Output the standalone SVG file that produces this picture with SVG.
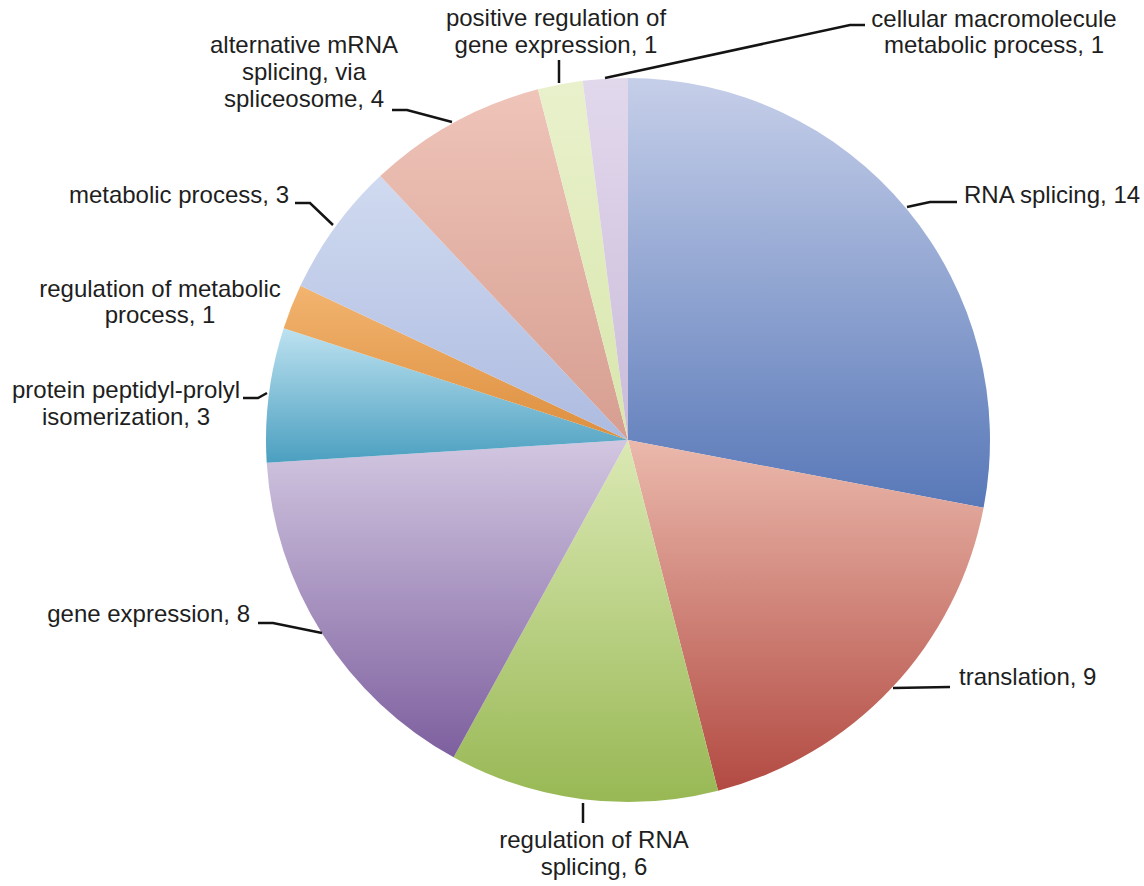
<svg xmlns="http://www.w3.org/2000/svg" width="1144" height="886" viewBox="0 0 1144 886">
<defs>
<linearGradient id="g1" x1="0" y1="0" x2="0" y2="1"><stop offset="0" stop-color="#c6cfe9"/><stop offset="1" stop-color="#5878b8"/></linearGradient>
<linearGradient id="g2" x1="0" y1="0" x2="0" y2="1"><stop offset="0" stop-color="#ebb9ac"/><stop offset="1" stop-color="#b24a42"/></linearGradient>
<linearGradient id="g3" x1="0" y1="0" x2="0" y2="1"><stop offset="0" stop-color="#dbe9b4"/><stop offset="1" stop-color="#98b854"/></linearGradient>
<linearGradient id="g4" x1="0" y1="0" x2="0" y2="1"><stop offset="0" stop-color="#d2c7e1"/><stop offset="1" stop-color="#7d5f9e"/></linearGradient>
<linearGradient id="g5" x1="0" y1="0" x2="0" y2="1"><stop offset="0" stop-color="#bde2f0"/><stop offset="1" stop-color="#4b9fc0"/></linearGradient>
<linearGradient id="g6" x1="0" y1="0" x2="0" y2="1"><stop offset="0" stop-color="#f2b470"/><stop offset="1" stop-color="#dd8f3e"/></linearGradient>
<linearGradient id="g7" x1="0" y1="0" x2="0" y2="1"><stop offset="0" stop-color="#d0daf0"/><stop offset="1" stop-color="#adbbe0"/></linearGradient>
<linearGradient id="g8" x1="0" y1="0" x2="0" y2="1"><stop offset="0" stop-color="#efc4b9"/><stop offset="1" stop-color="#d69e90"/></linearGradient>
<linearGradient id="g9" x1="0" y1="0" x2="0" y2="1"><stop offset="0" stop-color="#e9f1cc"/><stop offset="1" stop-color="#d8e6ac"/></linearGradient>
<linearGradient id="g10" x1="0" y1="0" x2="0" y2="1"><stop offset="0" stop-color="#e2d8ec"/><stop offset="1" stop-color="#cabcda"/></linearGradient>
</defs>
<style>
text{font-family:"Liberation Sans",Arial,sans-serif;font-size:24px;fill:#1e1e1e}
.m{text-anchor:middle}.e{text-anchor:end}
.lead{fill:none;stroke:#141414;stroke-width:2.5}
</style>
<rect width="1144" height="886" fill="#ffffff"/>
<g id="rna-splicing">
<path d="M628,440 L628,78 A362,362 0 0 1 983.59,507.83 Z" fill="url(#g1)"/>
<text x="964" y="203">RNA splicing, 14</text>
</g>
<g id="translation">
<path d="M628,440 L983.59,507.83 A362,362 0 0 1 718.03,790.63 Z" fill="url(#g2)"/>
<text x="959" y="685">translation, 9</text>
</g>
<g id="regulation-rna-splicing">
<path d="M628,440 L718.03,790.63 A362,362 0 0 1 453.61,757.22 Z" fill="url(#g3)"/>
<text class="m" x="594" y="848">regulation of RNA</text>
<text class="m" x="594" y="875">splicing, 6</text>
</g>
<g id="gene-expression">
<path d="M628,440 L453.61,757.22 A362,362 0 0 1 266.71,462.73 Z" fill="url(#g4)"/>
<text class="e" x="250" y="622">gene expression, 8</text>
</g>
<g id="protein-peptidyl-prolyl">
<path d="M628,440 L266.71,462.73 A362,362 0 0 1 283.72,328.13 Z" fill="url(#g5)"/>
<text class="m" x="126" y="398">protein peptidyl-prolyl</text>
<text class="m" x="126" y="425">isomerization, 3</text>
</g>
<g id="regulation-metabolic">
<path d="M628,440 L283.72,328.13 A362,362 0 0 1 300.45,285.87 Z" fill="url(#g6)"/>
<text class="m" x="160" y="297">regulation of metabolic</text>
<text class="m" x="160" y="323">process, 1</text>
</g>
<g id="metabolic-process">
<path d="M628,440 L300.45,285.87 A362,362 0 0 1 380.19,176.11 Z" fill="url(#g7)"/>
<text class="e" x="289" y="203">metabolic process, 3</text>
</g>
<g id="alternative-mrna-splicing">
<path d="M628,440 L380.19,176.11 A362,362 0 0 1 537.97,89.37 Z" fill="url(#g8)"/>
<text class="m" x="304" y="53">alternative mRNA</text>
<text class="m" x="304" y="80">splicing, via</text>
<text class="m" x="304" y="107">spliceosome, 4</text>
</g>
<g id="positive-regulation">
<path d="M628,440 L537.97,89.37 A362,362 0 0 1 582.63,80.86 Z" fill="url(#g9)"/>
<text class="m" x="556" y="26">positive regulation of</text>
<text class="m" x="556" y="53">gene expression, 1</text>
</g>
<g id="cellular-macromolecule">
<path d="M628,440 L582.63,80.86 A362,362 0 0 1 628,78 Z" fill="url(#g10)"/>
<text class="m" x="994" y="27">cellular macromolecule</text>
<text class="m" x="994" y="53">metabolic process, 1</text>
</g>
<g id="connectors">
<polyline class="lead" points="907,207 930,202 957,202"/>
<polyline class="lead" points="893,688 950,687"/>
<polyline class="lead" points="583,803 583,823"/>
<polyline class="lead" points="258,623 273,623 322,633"/>
<polyline class="lead" points="243,398 258,398 267,393"/>
<polyline class="lead" points="295,203 310,203 333,225"/>
<polyline class="lead" points="392,110 407,110 452,122"/>
<polyline class="lead" points="559,60 559,83"/>
<polyline class="lead" points="605,78 850,25 865,25"/>
</g>
</svg>
